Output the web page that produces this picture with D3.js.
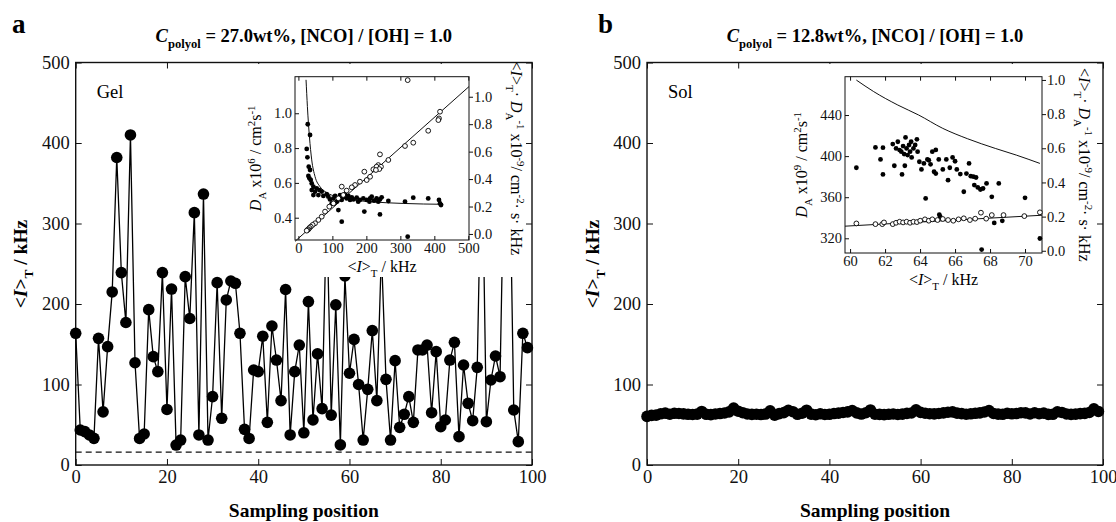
<!DOCTYPE html>
<html>
<head>
<meta charset="utf-8">
<script src="https://cdn.jsdelivr.net/npm/d3@7"></script>
<style>
  body { margin: 0; background: #fff; }
  svg { display: block; }
  text { font-family: "Liberation Serif", "DejaVu Serif", serif; }
</style>
</head>
<body>
<div id="container"></div>
<script>
var width = 1116,
    height = 522;

// panel a: <I>_T at each sampling position (gel)
var gelI = [163.6, 43.5, 41.4, 37.3, 33.1, 157.3, 66, 147, 215, 382,
            239, 177, 410, 127, 33, 38.5, 193, 134.6, 116, 239,
            69, 218.6, 24.8, 31, 234, 182, 313.5, 37.3, 336.6, 31,
            85, 226.5, 58, 205, 228.6, 225.7, 163.6, 44.3, 33, 118,
            116, 160, 53, 172.7, 130.4, 80, 218, 37.3, 116, 149,
            40, 203, 56, 138, 70, 321.6, 62, 199, 25, 235,
            114, 156, 100, 31, 94, 167, 80, 264.7, 106.4, 31,
            129.6, 46.8, 63, 84.9, 53, 142.9, 142.9, 149, 65, 140.8,
            47.6, 55.9, 130.4, 152.4, 35.2, 124.2, 76.6, 55, 121.3, 416.7,
            53.8, 105.6, 135.4, 109.7, 413.7, 419.6, 68.3, 29, 163.6, 145.8];
var gelBase = 16;

// panel b: <I>_T at each sampling position (sol)
var solI = [60.4, 61.6, 62.0, 63.6, 64.5, 63.1, 64.2, 64.0, 63.5, 63.0,
            62.8, 63.2, 66.5, 63.0, 62.6, 63.4, 63.9, 64.6, 66.0, 70.7,
            66.8, 65.0, 63.4, 62.9, 63.1, 62.7, 63.3, 67.4, 62.0, 63.8,
            65.1, 67.9, 66.2, 63.0, 64.3, 68.1, 63.2, 62.5, 63.6, 62.8,
            63.0, 63.9, 64.5, 65.3, 66.0, 67.7, 64.8, 63.3, 64.9, 68.4,
            63.1, 62.9, 62.6, 63.0, 63.4, 62.8, 63.2, 64.1, 64.6, 68.6,
            65.4, 64.3, 63.7, 63.5, 64.0, 64.8, 65.6, 66.0, 64.4, 63.8,
            63.1, 63.6, 64.2, 64.7, 65.9, 67.5, 64.0, 63.2, 63.0, 64.2,
            63.6, 63.9, 65.0, 64.7, 63.4, 64.9, 63.7, 64.5, 62.9, 63.0,
            66.1, 65.3, 63.4, 62.9, 63.2, 63.8, 64.1, 65.2, 69.7, 66.5];

var mainXTicks = [0, 20, 40, 60, 80, 100];
var mainYTicks = [0, 100, 200, 300, 400, 500];

// inset a: D_A x10^6 (filled) vs <I>_T
var gelD = [[27.5, 0.937], [34.3, 0.875], [24.5, 0.795], [26.5, 0.747], [30.4, 0.693],
            [34.3, 0.674], [29.4, 0.640], [32.4, 0.626], [36.3, 0.617], [39.2, 0.597],
            [44.1, 0.578], [53.9, 0.569], [61.8, 0.559], [39.2, 0.559], [49.0, 0.550],
            [68.6, 0.550], [44.1, 0.530], [58.8, 0.530], [73.5, 0.525], [83.3, 0.536],
            [98, 0.482], [112.7, 0.492], [117.6, 0.444], [127.5, 0.377], [194, 0.435],
            [240, 0.419], [264.7, 0.496], [313.7, 0.492], [338, 0.515], [382, 0.511],
            [413.7, 0.502], [416.7, 0.482], [419.6, 0.473], [321.6, 0.291],
            [103, 0.511], [108, 0.525], [118, 0.511], [122.5, 0.530], [127.5, 0.502],
            [132, 0.521], [137, 0.536], [142, 0.511], [147, 0.525], [152, 0.502],
            [157, 0.517], [162, 0.505], [171.5, 0.515], [181, 0.502], [191, 0.511],
            [201, 0.502], [211, 0.511], [215.7, 0.521], [222.5, 0.498], [230, 0.511],
            [235, 0.492], [240, 0.505], [245, 0.517], [209, 0.492], [176, 0.492],
            [93, 0.505], [88, 0.521]];
// inset a: <I>_T / D_A x10^-9 (open) vs <I>_T
var gelR = [[321.6, 1.121], [416.7, 0.891], [413.7, 0.842], [411.8, 0.830], [382, 0.752],
            [338, 0.665], [313.7, 0.641], [264.7, 0.539], [240, 0.580], [235, 0.502],
            [230, 0.490], [220.6, 0.471], [194, 0.454], [201, 0.393], [211, 0.417],
            [181, 0.381], [166.6, 0.357], [157, 0.340], [127.5, 0.345], [142, 0.316],
            [132, 0.284], [117.6, 0.260], [103, 0.223], [91, 0.199], [78.4, 0.163],
            [68.6, 0.126], [58.8, 0.102], [49, 0.078], [42, 0.066], [36.3, 0.053],
            [32.4, 0.044], [29.4, 0.034], [26.5, 0.029], [24.5, 0.024], [243, 0.49],
            [238, 0.473], [228, 0.466]];
var gelDFit = [[22.5, 1.192], [26.5, 1.038], [32.4, 0.866], [39.2, 0.732], [49, 0.636],
               [63.7, 0.578], [83.3, 0.544], [112.7, 0.521], [161.8, 0.502], [210.8, 0.492],
               [308.8, 0.482], [426.5, 0.477]];
var gelRFit = [[-10, -0.054], [502, 1.074]];

// inset b
var solD = [[60.36, 388.7], [61.45, 408.5], [61.74, 396.8], [61.88, 408.2], [61.88, 382.2],
            [62.44, 411.7], [62.53, 390.6], [62.63, 407.5], [62.73, 414], [62.83, 405.9],
            [62.93, 404.3], [62.97, 382.2], [63.03, 409.8], [63.09, 402], [63.13, 390.6],
            [63.17, 418.2], [63.23, 407.5], [63.29, 401], [63.37, 410.8], [63.43, 404.3],
            [63.49, 414], [63.52, 398.7], [63.62, 407.5], [63.72, 410.8], [63.82, 416.3],
            [63.86, 404.3], [63.96, 394.5], [64.08, 387], [64.22, 392.9], [64.32, 358.8],
            [64.42, 396.8], [64.5, 396], [64.6, 392], [64.7, 404.3], [64.8, 384.8],
            [64.9, 406], [64.9, 383], [65.07, 396.8], [65.3, 387], [65.5, 396.8],
            [65.6, 376.6], [65.7, 388.7], [65.86, 398.7], [66, 395], [66.1, 387],
            [66.3, 382.5], [66.5, 365.3], [66.65, 383], [66.8, 392.9], [66.9, 380.5],
            [67.05, 380], [67.2, 379.2], [67.1, 371.8], [67.3, 369.5], [67.45, 367.5],
            [67.6, 368.5], [67.8, 373.4], [68.1, 360.4], [68.5, 373.4], [70, 359.4],
            [70.85, 319.8], [67.52, 309], [68.24, 335], [68.7, 337], [65.1, 343], [65.15, 341]];
var solR = [[60.36, 0.160], [61.45, 0.156], [61.84, 0.156], [61.94, 0.166], [62.44, 0.156],
            [62.63, 0.164], [62.83, 0.170], [63.03, 0.166], [63.23, 0.170], [63.43, 0.164],
            [63.62, 0.170], [63.82, 0.168], [64.01, 0.176], [64.28, 0.184], [64.5, 0.176],
            [64.7, 0.184], [65.0, 0.180], [65.3, 0.186], [65.6, 0.180], [65.9, 0.176],
            [66.2, 0.184], [66.5, 0.190], [66.85, 0.180], [67.15, 0.188], [67.48, 0.223],
            [67.78, 0.188], [68.1, 0.209], [68.77, 0.209], [69.96, 0.203], [70.85, 0.225]];
var solDFit = [[60.36, 474], [61.35, 462.8], [62.73, 449.7], [63.92, 440], [65.3, 427],
               [66.7, 417], [68.3, 407.5], [69.5, 401], [70.85, 392.9]];
var solRFit = [[59.71, 0.144], [70.97, 0.208]];

var svg = d3.select("#container").append("svg")
    .attr("width", width)
    .attr("height", height);
svg.append("rect").attr("width", width).attr("height", height).attr("fill", "#fff");

// text with italic / sub / sup pieces
function rich(sel, parts, size) {
    let shift = 0;
    parts.forEach(p => {
        let target = p.sub ? size * 0.3 : (p.sup ? -size * 0.4 : 0);
        let ts = sel.append("tspan").text(p.t).attr("dy", target - shift);
        if (p.sub || p.sup) ts.attr("font-size", size * 0.68);
        if (p.it) ts.attr("font-style", "italic");
        shift = target;
    });
    return sel;
}

function styleAxis(g, size) {
    g.attr("font-family", null).attr("font-size", null);
    g.selectAll("text").attr("font-size", size).attr("fill", "#111");
    g.selectAll("line").attr("stroke", "#111");
    g.select(".domain").remove();
}

function drawMain(cfg) {
    let x = d3.scaleLinear().domain([0, 100]).range([cfg.left, cfg.right]);
    let y = d3.scaleLinear().domain([0, 500]).range([465, 62.5]);
    let g = svg.append("g");

    g.append("g").attr("transform", "translate(0,465)")
        .call(d3.axisBottom(x).tickValues(mainXTicks).tickSize(-6).tickPadding(5))
        .call(a => styleAxis(a, 18.5));
    g.append("g").attr("transform", "translate(0,62.5)")
        .call(d3.axisTop(x).tickValues(mainXTicks).tickSize(-6).tickFormat(""))
        .call(a => styleAxis(a, 18.5));
    g.append("g").attr("transform", "translate(" + cfg.left + ",0)")
        .call(d3.axisLeft(y).tickValues(mainYTicks).tickSize(-6).tickPadding(6))
        .call(a => styleAxis(a, 18.5));
    g.append("g").attr("transform", "translate(" + cfg.right + ",0)")
        .call(d3.axisRight(y).tickValues(mainYTicks).tickSize(-6).tickFormat(""))
        .call(a => styleAxis(a, 18.5));

    g.append("rect")
        .attr("x", cfg.left).attr("y", y(500))
        .attr("width", cfg.right - cfg.left).attr("height", y(0) - y(500))
        .attr("fill", "none").attr("stroke", "#111").attr("stroke-width", 1.4);

    if (cfg.base) {
        g.append("line")
            .attr("x1", x(0)).attr("x2", x(100))
            .attr("y1", y(cfg.base)).attr("y2", y(cfg.base))
            .attr("stroke", "#111").attr("stroke-width", 1.2)
            .attr("stroke-dasharray", "6,4");
    }

    let line = d3.line().x((d, i) => x(i)).y(d => y(d));
    g.append("path").attr("d", line(cfg.data))
        .attr("fill", "none").attr("stroke", "#000").attr("stroke-width", 1.3);
    g.selectAll(".dot").data(cfg.data).enter().append("circle")
        .attr("cx", (d, i) => x(i)).attr("cy", d => y(d))
        .attr("r", 5.8).attr("fill", "#000");

    g.append("text").attr("x", cfg.left + 21).attr("y", 98)
        .attr("font-size", 18.5).text(cfg.tag);

    // titles and labels
    let mid = (cfg.left + cfg.right) / 2;
    rich(g.append("text").attr("x", mid).attr("y", 42).attr("text-anchor", "middle")
        .attr("font-size", 18.5).attr("font-weight", "bold"),
        [{ t: "C", it: 1 }, { t: "polyol", sub: 1 }, { t: " = " + cfg.title }], 18.5);
    g.append("text").attr("x", cfg.letterX).attr("y", 33)
        .attr("font-family", "Liberation Sans, Arial, sans-serif")
        .attr("font-weight", "bold").attr("font-size", 27).text(cfg.letter);
    g.append("text").attr("x", mid).attr("y", 517).attr("text-anchor", "middle")
        .attr("font-size", 19.5).attr("font-weight", "bold").text("Sampling position");
    rich(g.append("text").attr("text-anchor", "middle").attr("font-size", 19.5)
        .attr("font-weight", "bold")
        .attr("transform", "translate(" + cfg.labelX + ",264) rotate(-90)"),
        [{ t: "<" }, { t: "I", it: 1 }, { t: ">" }, { t: "T", sub: 1 }, { t: " / kHz" }], 19.5);
}

function drawInset(cfg) {
    let b = cfg.box;
    let g = svg.append("g");
    g.append("rect").attr("x", cfg.white[0]).attr("y", cfg.white[1])
        .attr("width", cfg.white[2] - cfg.white[0]).attr("height", cfg.white[3] - cfg.white[1])
        .attr("fill", "#fff");

    let x = d3.scaleLinear().domain(cfg.xDom).range([b.x0, b.x1]);
    let yl = d3.scaleLinear().domain(cfg.ylDom).range([b.y1, b.y0]);
    let yr = d3.scaleLinear().domain(cfg.yrDom).range([b.y1, b.y0]);
    let fs = 14.5;

    g.append("g").attr("transform", "translate(0," + b.y1 + ")")
        .call(d3.axisBottom(x).tickValues(cfg.xTicks).tickSize(-4).tickPadding(3))
        .call(a => styleAxis(a, fs));
    g.append("g").attr("transform", "translate(0," + b.y0 + ")")
        .call(d3.axisTop(x).tickValues(cfg.xTicks).tickSize(-4).tickFormat(""))
        .call(a => styleAxis(a, fs));
    g.append("g").attr("transform", "translate(" + b.x0 + ",0)")
        .call(d3.axisLeft(yl).tickValues(cfg.ylTicks).tickSize(-4).tickPadding(3)
            .tickFormat(cfg.ylFmt))
        .call(a => styleAxis(a, fs));
    // right axis ticks point outward, touching the labels
    g.append("g").attr("transform", "translate(" + b.x1 + ",0)")
        .call(d3.axisRight(yr).tickValues(cfg.yrTicks).tickSize(4).tickPadding(1)
            .tickFormat(d3.format(".1f")))
        .call(a => styleAxis(a, fs));
    g.append("rect").attr("x", b.x0).attr("y", b.y0)
        .attr("width", b.x1 - b.x0).attr("height", b.y1 - b.y0)
        .attr("fill", "none").attr("stroke", "#111").attr("stroke-width", 1);

    let marks = g.append("g");
    let lineL = d3.line().x(d => x(d[0])).y(d => yl(d[1])).curve(d3.curveMonotoneX);
    let lineR = d3.line().x(d => x(d[0])).y(d => yr(d[1]));
    marks.append("path").attr("d", lineL(cfg.dFit))
        .attr("fill", "none").attr("stroke", "#111").attr("stroke-width", 1);
    marks.append("path").attr("d", lineR(cfg.rFit))
        .attr("fill", "none").attr("stroke", "#111").attr("stroke-width", 1);
    marks.selectAll(".fd").data(cfg.dPts).enter().append("circle")
        .attr("cx", d => x(d[0])).attr("cy", d => yl(d[1]))
        .attr("r", 2.4).attr("fill", "#000");
    marks.selectAll(".od").data(cfg.rPts).enter().append("circle")
        .attr("cx", d => x(d[0])).attr("cy", d => yr(d[1]))
        .attr("r", 2.4).attr("fill", "#fff").attr("stroke", "#000").attr("stroke-width", 0.9);

    let cx = (b.x0 + b.x1) / 2, cy = (b.y0 + b.y1) / 2;
    rich(g.append("text").attr("x", cx).attr("y", b.y1 + 32).attr("text-anchor", "middle")
        .attr("font-size", 16),
        [{ t: "<" }, { t: "I", it: 1 }, { t: ">" }, { t: "T", sub: 1 }, { t: " / kHz" }], 16);
    rich(g.append("text").attr("text-anchor", "middle").attr("font-size", 16)
        .attr("transform", "translate(" + cfg.lLabelX + "," + cy + ") rotate(-90)"),
        [{ t: "D", it: 1 }, { t: "A", sub: 1 }, { t: " x10" }, { t: cfg.exp, sup: 1 },
         { t: " / cm" }, { t: "2", sup: 1 }, { t: "s" }, { t: "-1", sup: 1 }], 16);
    rich(g.append("text").attr("text-anchor", "middle").attr("font-size", 16)
        .attr("transform", "translate(" + cfg.rLabelX + "," + cy + ") rotate(90)"),
        [{ t: "<" }, { t: "I", it: 1 }, { t: ">" }, { t: "T", sub: 1 }, { t: "· " },
         { t: "D", it: 1 }, { t: "A", sub: 1 }, { t: "-1", sup: 1 }, { t: " x10" },
         { t: "-9", sup: 1 }, { t: "/ cm" }, { t: "-2", sup: 1 }, { t: "· s· kHz" }], 16);
}

drawMain({ left: 75.7, right: 532, data: gelI, base: gelBase, tag: "Gel",
           title: "27.0wt%, [NCO] / [OH] = 1.0", letter: "a", letterX: 12, labelX: 27 });
drawMain({ left: 647, right: 1103, data: solI, base: null, tag: "Sol",
           title: "12.8wt%, [NCO] / [OH] = 1.0", letter: "b", letterX: 598, labelX: 599 });

drawInset({
    box: { x0: 295, x1: 469, y0: 76.7, y1: 240 },
    white: [245, 64, 522, 277],
    xDom: [-10, 502], ylDom: [0.272, 1.21], yrDom: [-0.044, 1.146],
    xTicks: [0, 100, 200, 300, 400, 500], ylTicks: [0.4, 0.6, 0.8, 1.0],
    yrTicks: [0, 0.2, 0.4, 0.6, 0.8, 1.0], ylFmt: d3.format(".1f"),
    dPts: gelD, rPts: gelR, dFit: gelDFit, rFit: gelRFit,
    exp: "6", lLabelX: 261, rLabelX: 511
});
drawInset({
    box: { x0: 845, x1: 1042, y0: 76.7, y1: 253 },
    white: [795, 64, 1095, 290],
    xDom: [59.71, 70.97], ylDom: [305.7, 477.3], yrDom: [-0.013, 1.019],
    xTicks: [60, 62, 64, 66, 68, 70], ylTicks: [320, 360, 400, 440],
    yrTicks: [0, 0.2, 0.4, 0.6, 0.8, 1.0], ylFmt: d3.format("d"),
    dPts: solD, rPts: solR, dFit: solDFit, rFit: solRFit,
    exp: "9", lLabelX: 807, rLabelX: 1079
});
</script>
</body>
</html>
